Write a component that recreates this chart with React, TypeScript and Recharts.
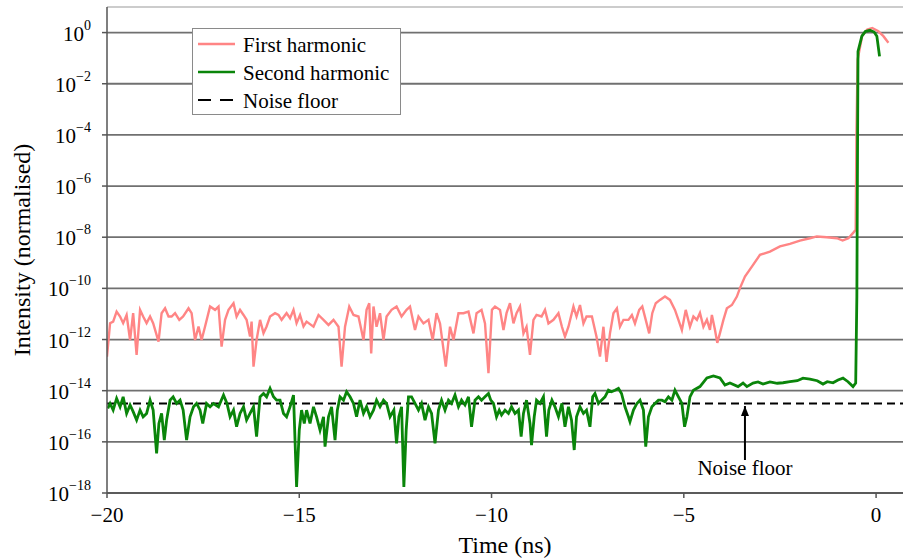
import React from 'react';
import { LineChart, Line, XAxis, YAxis, CartesianGrid, ReferenceLine, ReferenceDot, Label } from 'recharts';

// Time (ns) and log10(intensity)
const firstHarmonicTime = [
  -20.0, -19.92, -19.84, -19.75, -19.66, -19.58, -19.49, -19.4, -19.32, -19.23, -19.14, -19.06, -18.97, -18.88, -18.8,
  -18.66, -18.58, -18.49, -18.4, -18.32, -18.23, -18.12, -18.02, -17.88, -17.8, -17.71, -17.62, -17.54, -17.45, -17.32,
  -17.19, -17.1, -17.02, -16.93, -16.84, -16.71, -16.63, -16.54, -16.45, -16.37, -16.28, -16.24, -16.19, -16.11, -16.02,
  -15.93, -15.85, -15.76, -15.63, -15.54, -15.46, -15.33, -15.24, -15.15, -15.07, -14.98, -14.89,
  -14.81, -14.63, -14.5, -14.37, -14.24, -14.11, -13.98, -13.9, -13.81, -13.7, -13.59, -13.46, -13.33, -13.25, -13.18,
  -13.13, -13.07, -12.99, -12.9, -12.81, -12.73, -12.6, -12.47, -12.34, -12.21, -12.12, -11.99, -11.9, -11.77, -11.64,
  -11.53, -11.43, -11.34, -11.19, -11.08, -10.99, -10.86, -10.73, -10.6, -10.47, -10.39, -10.26, -10.17, -10.08, -9.99,
  -9.91, -9.78, -9.69, -9.61, -9.52, -9.43, -9.35, -9.26, -9.17, -9.09, -9.0, -8.91, -8.83, -8.7, -8.61, -8.52, -8.39,
  -8.26, -8.17, -8.09, -8.0, -7.87, -7.79, -7.7, -7.61, -7.53, -7.39, -7.27, -7.18, -7.09, -7.01, -6.92, -6.83, -6.74,
  -6.66, -6.57, -6.44, -6.35, -6.27, -6.16, -6.08, -5.99, -5.9, -5.82, -5.73, -5.62, -5.49, -5.36, -5.23, -5.14, -5.05,
  -4.95, -4.84, -4.75, -4.66, -4.58, -4.49, -4.4, -4.32, -4.27, -4.19, -4.13, -4.06, -3.97, -3.88, -3.75, -3.62, -3.54,
  -3.41, -3.23, -3.02, -2.76, -2.5, -2.24, -1.98, -1.72, -1.54, -1.28, -1.02, -0.87, -0.72, -0.59, -0.53, -0.51, -0.48,
  -0.36, -0.23, -0.1, 0.06, 0.19, 0.32,
];
const firstHarmonicExp = [
  -12.67, -11.36, -11.3, -10.91, -11.1, -11.36, -11.04, -12.02, -10.97, -12.6, -10.84, -11.1, -11.36, -11.1, -11.36,
  -12.08, -10.97, -10.78, -11.1, -11.1, -10.97, -11.23, -11.1, -10.78, -10.97, -12.02, -11.49, -12.02, -11.49, -10.71,
  -10.84, -10.71, -12.28, -11.23, -10.84, -10.58, -11.1, -10.84, -11.04, -11.23, -11.88, -11.3, -13.06, -12.02, -11.23,
  -11.75, -11.49, -11.1, -10.97, -11.04, -11.23, -10.97, -11.17, -10.84, -11.36, -11.04, -11.49,
  -11.3, -11.5, -11.04, -11.23, -11.43, -11.23, -11.5, -13.06, -11.5, -10.71, -11.04, -11.1, -12.02, -10.84, -10.58,
  -12.54, -10.71, -11.5, -10.97, -12.02, -11.1, -10.84, -10.71, -11.1, -10.84, -10.71, -11.63, -11.1, -11.37, -11.23,
  -12.02, -10.97, -11.37, -13.06, -11.5, -12.02, -10.97, -10.97, -10.91, -11.76, -10.97, -10.84, -11.37, -13.32, -10.84,
  -10.71, -10.84, -11.63, -10.97, -10.58, -11.37, -10.97, -10.71, -11.76, -11.5, -12.6, -11.23, -11.04, -11.1, -10.84, -11.37, -11.23,
  -10.97, -11.5, -11.89, -11.5, -10.71, -11.1, -10.65, -11.37, -11.1, -11.1, -11.89, -12.67, -11.5, -12.87, -11.76, -10.97, -10.78,
  -11.5, -11.23, -11.23, -11.04, -11.37, -10.84, -10.71, -11.23, -11.76, -10.97, -10.58, -10.45, -10.32, -10.45, -10.84, -11.23, -11.63,
  -10.84, -11.5, -11.1, -11.23, -10.96, -11.5, -11.23, -11.62, -11.04, -11.62, -12.13, -11.75, -11.23, -10.78, -10.65, -10.32, -9.99,
  -9.54, -9.15, -8.69, -8.56, -8.36, -8.26, -8.13, -8.04, -7.97, -8.0, -8.04, -8.13, -8.04, -7.82, -7.71, -3.87, -1.06,
  -0.12, 0.12, 0.18, 0.05, -0.14, -0.4,
];

const secondHarmonicTime = [
  -19.98, -19.92, -19.84, -19.75, -19.66, -19.58, -19.49, -19.4, -19.32, -19.23, -19.14, -19.06, -18.97, -18.88, -18.8,
  -18.71, -18.65, -18.58, -18.51, -18.45, -18.36, -18.28, -18.19, -18.1, -18.02, -17.93, -17.84, -17.75, -17.67, -17.58,
  -17.51, -17.41, -17.32, -17.23, -17.1, -16.97, -16.88, -16.8, -16.71, -16.63, -16.54, -16.45, -16.37, -16.28, -16.19,
  -16.11, -16.02, -15.93, -15.85, -15.76, -15.67, -15.59, -15.5, -15.41, -15.33, -15.24, -15.15, -15.07, -15.0, -14.94,
  -14.87, -14.81, -14.72, -14.63, -14.55, -14.46, -14.37, -14.33, -14.24, -14.16, -14.07, -14.01, -13.94, -13.85, -13.77,
  -13.68, -13.59, -13.51, -13.42, -13.33, -13.25, -13.16, -13.07, -12.99, -12.9, -12.81, -12.73, -12.64, -12.54, -12.47,
  -12.41, -12.34, -12.28, -12.22, -12.16, -12.08, -11.99, -11.9, -11.82, -11.73, -11.64, -11.56, -11.47, -11.38, -11.3,
  -11.21, -11.12, -11.04, -10.95, -10.86, -10.78, -10.69, -10.6, -10.52, -10.43, -10.34, -10.26, -10.17, -10.08, -10.02,
  -9.95, -9.87, -9.8, -9.74, -9.65, -9.56, -9.48, -9.39, -9.3, -9.23, -9.17, -9.09, -9.0, -8.96, -8.89, -8.83, -8.74,
  -8.65, -8.57, -8.51, -8.43, -8.35, -8.26, -8.17, -8.09, -8.0, -7.92, -7.85, -7.79, -7.7, -7.61, -7.53, -7.44, -7.37,
  -7.31, -7.22, -7.14, -7.05, -6.96, -6.88, -6.79, -6.7, -6.62, -6.53, -6.44, -6.4, -6.31, -6.22, -6.14, -6.05, -5.99,
  -5.92, -5.83, -5.75, -5.66, -5.57, -5.49, -5.4, -5.31, -5.23, -5.14, -5.05, -4.98, -4.92, -4.84, -4.75, -4.58, -4.4,
  -4.23, -4.06, -3.93, -3.8, -3.59, -3.46, -3.36, -3.2, -3.07, -2.94, -2.76, -2.57, -2.42, -2.24, -2.05, -1.9, -1.72,
  -1.53, -1.38, -1.27, -1.12, -0.99, -0.86, -0.73, -0.6, -0.53, -0.5, -0.48, -0.47, -0.37, -0.28, -0.16, -0.05, 0.02, 0.09,
];
const secondHarmonicExp = [
  -14.69, -14.5, -14.76, -14.3, -14.63, -14.24, -14.89, -14.56, -14.82, -15.15, -14.76, -15.02, -14.89, -14.37, -14.76,
  -16.45, -15.28, -14.89, -15.93, -15.15, -14.37, -14.24, -14.5, -14.37, -14.76, -15.93, -15.02, -14.63, -14.5, -14.76,
  -15.28, -14.5, -14.63, -14.5, -14.63, -14.17, -14.5, -15.02, -14.76, -15.41, -14.89, -14.63, -15.15, -14.89, -14.63,
  -15.8, -14.24, -14.11, -14.24, -13.91, -14.24, -14.37, -14.37, -14.89, -15.02, -14.63, -14.17, -17.76, -15.54, -14.76,
  -15.28, -14.76, -15.28, -14.63, -15.02, -15.54, -15.02, -16.19, -15.02, -14.63, -15.93, -14.76, -14.24, -14.37, -14.04,
  -14.24, -14.5, -15.02, -14.37, -14.89, -14.63, -15.02, -14.76, -14.37, -14.63, -14.37, -14.5, -15.02, -14.76, -16.06,
  -15.02, -14.63, -17.76, -15.54, -14.24, -14.24, -14.5, -14.76, -14.5, -15.15, -14.63, -14.89, -16.06, -14.76, -14.37,
  -14.76, -14.37, -14.5, -14.17, -14.63, -14.37, -14.56, -14.24, -15.41, -14.37, -14.24, -14.37, -14.24, -14.11, -14.37,
  -14.5, -15.02, -14.76, -14.95, -14.76, -14.89, -14.63, -14.89, -14.76, -15.8, -14.89, -14.37, -15.28, -16.13, -15.02, -14.37, -14.5,
  -14.24, -15.8, -14.76, -14.37, -14.63, -15.02, -14.5, -15.41, -14.63, -15.15, -16.32, -15.02, -14.63, -14.89, -14.76, -15.41, -14.24,
  -14.11, -14.5, -14.37, -14.24, -13.98, -14.04, -13.98, -13.91, -14.11, -14.63, -15.02, -15.21, -14.76, -14.5, -14.37, -14.76, -16.19,
  -15.02, -14.63, -14.5, -14.37, -14.37, -14.43, -14.24, -14.37, -13.98, -14.24, -14.5, -15.41, -15.02, -14.24, -13.98, -13.84, -13.5,
  -13.42, -13.5, -13.78, -13.7, -13.84, -13.7, -13.84, -13.7, -13.66, -13.74, -13.66, -13.71, -13.69, -13.65, -13.61, -13.51, -13.55,
  -13.61, -13.74, -13.65, -13.69, -13.58, -13.51, -13.65, -13.84, -13.7, -10.33, -3.87, -0.74, -0.14, 0.04, 0.09, 0.02, -0.14, -0.93,
];

const noiseFloorTime = [-20, 0.7];
const noiseFloorExp = [-14.5, -14.5];

const xTicks = [-20, -15, -10, -5, 0];
const yTickExps = [-18, -16, -14, -12, -10, -8, -6, -4, -2, 0];

const arrowTime = -3.41;
const arrowTailExp = -16.71;
const arrowTipExp = -14.6;
const arrowLabelExp = -17.3;

const toRows = (ts: number[], es: number[]) => ts.map((t, i) => ({ t, v: Math.pow(10, es[i]) }));
const firstData = toRows(firstHarmonicTime, firstHarmonicExp);
const secondData = toRows(secondHarmonicTime, secondHarmonicExp);
const noiseData = toRows(noiseFloorTime, noiseFloorExp);
const yTicks = yTickExps.map((e) => Math.pow(10, e));

const SERIF = '"Liberation Serif", "Times New Roman", serif';
const PINK = '#ff8585';
const GREEN = '#0a850a';

const minus = (n: number) => (n < 0 ? '\u2212' + Math.abs(n) : String(n));

const YTick = (props: any) => {
  const { x, y, payload } = props;
  const e = Math.round(Math.log10(payload.value));
  return (
    <text x={x} y={y} textAnchor="end" fontFamily={SERIF} fill="#000">
      <tspan fontSize={21} dy={8}>10</tspan>
      <tspan fontSize={14} dy={-11}>{minus(e)}</tspan>
    </text>
  );
};

const XLabel = (props: any) => {
  const vb = props.viewBox;
  return (
    <text x={vb.x + vb.width / 2} y={vb.y + vb.height - 6} textAnchor="middle" fontFamily={SERIF} fontSize={24} fill="#000">
      Time (ns)
    </text>
  );
};

const YLabel = (props: any) => {
  const vb = props.viewBox;
  const cx = 30;
  const cy = vb.y + vb.height / 2;
  return (
    <text x={cx} y={cy} transform={`rotate(-90, ${cx}, ${cy})`} textAnchor="middle" fontFamily={SERIF} fontSize={24} fill="#000">
      Intensity (normalised)
    </text>
  );
};

const ArrowHead = (props: any) => {
  const { cx, cy } = props;
  return <path d={`M${cx},${cy} L${cx - 4},${cy + 10} L${cx + 4},${cy + 10} Z`} fill="#000" />;
};

const NoiseText = (props: any) => {
  const { cx, cy } = props;
  return (
    <text x={cx} y={cy} textAnchor="middle" fontFamily={SERIF} fontSize={21} fill="#000">
      Noise floor
    </text>
  );
};

const legendItems = [
  { name: 'First harmonic', color: PINK, dash: undefined as string | undefined, width: 2.5 },
  { name: 'Second harmonic', color: GREEN, dash: undefined as string | undefined, width: 2.5 },
  { name: 'Noise floor', color: '#000', dash: '13 9', width: 2 },
];

export default function App() {
  return (
    <div style={{ position: 'absolute', left: 0, top: 0, width: 903, height: 559, background: '#fff' }}>
      <LineChart width={903} height={559} margin={{ top: 7, right: 0, bottom: 0, left: 0 }}>
        <CartesianGrid horizontal vertical={false} stroke="#707070" strokeWidth={1.8} />
        <XAxis
          type="number"
          dataKey="t"
          domain={[-20, 0.7]}
          ticks={xTicks}
          allowDataOverflow
          height={66}
          tickSize={5}
          tickMargin={9}
          tickFormatter={minus}
          tick={{ fontFamily: SERIF, fontSize: 21, fill: '#000' }}
          stroke="#555"
          strokeWidth={1.5}
        >
          <Label content={XLabel} />
        </XAxis>
        <YAxis
          type="number"
          scale="log"
          domain={[1e-18, 10]}
          ticks={yTicks}
          allowDataOverflow
          width={107}
          tickSize={5}
          tickMargin={11}
          tick={YTick}
          stroke="#555"
          strokeWidth={1.5}
          interval={0}
        >
          <Label content={YLabel} />
        </YAxis>
        <ReferenceLine y={10} stroke="#cccccc" strokeWidth={2} />
        <Line data={noiseData} dataKey="v" stroke="#000" strokeWidth={2} strokeDasharray="8 5" dot={false} isAnimationActive={false} />
        <Line data={firstData} dataKey="v" stroke={PINK} strokeWidth={2.4} dot={false} isAnimationActive={false} />
        <Line data={secondData} dataKey="v" stroke={GREEN} strokeWidth={2.8} dot={false} isAnimationActive={false} />
        <ReferenceLine
          segment={[
            { x: arrowTime, y: Math.pow(10, arrowTailExp) },
            { x: arrowTime, y: Math.pow(10, arrowTipExp) },
          ]}
          stroke="#000"
          strokeWidth={2}
        />
        <ReferenceDot x={arrowTime} y={Math.pow(10, arrowTipExp)} shape={ArrowHead} />
        <ReferenceDot x={arrowTime} y={Math.pow(10, arrowLabelExp)} shape={NoiseText} />
      </LineChart>
      <div
        style={{
          position: 'absolute',
          left: 192,
          top: 28,
          width: 209,
          height: 87,
          border: '1.5px solid #8a8a8a',
          background: '#fff',
          boxSizing: 'border-box',
        }}
      >
        <svg width={209} height={87}>
          {legendItems.map((it, i) => (
            <g key={it.name}>
              <line x1={5} x2={42} y1={15 + i * 28} y2={15 + i * 28} stroke={it.color} strokeWidth={it.width} strokeDasharray={it.dash} />
              <text x={50} y={22.5 + i * 28} fontFamily={SERIF} fontSize={21} fill="#000">
                {it.name}
              </text>
            </g>
          ))}
        </svg>
      </div>
    </div>
  );
}
